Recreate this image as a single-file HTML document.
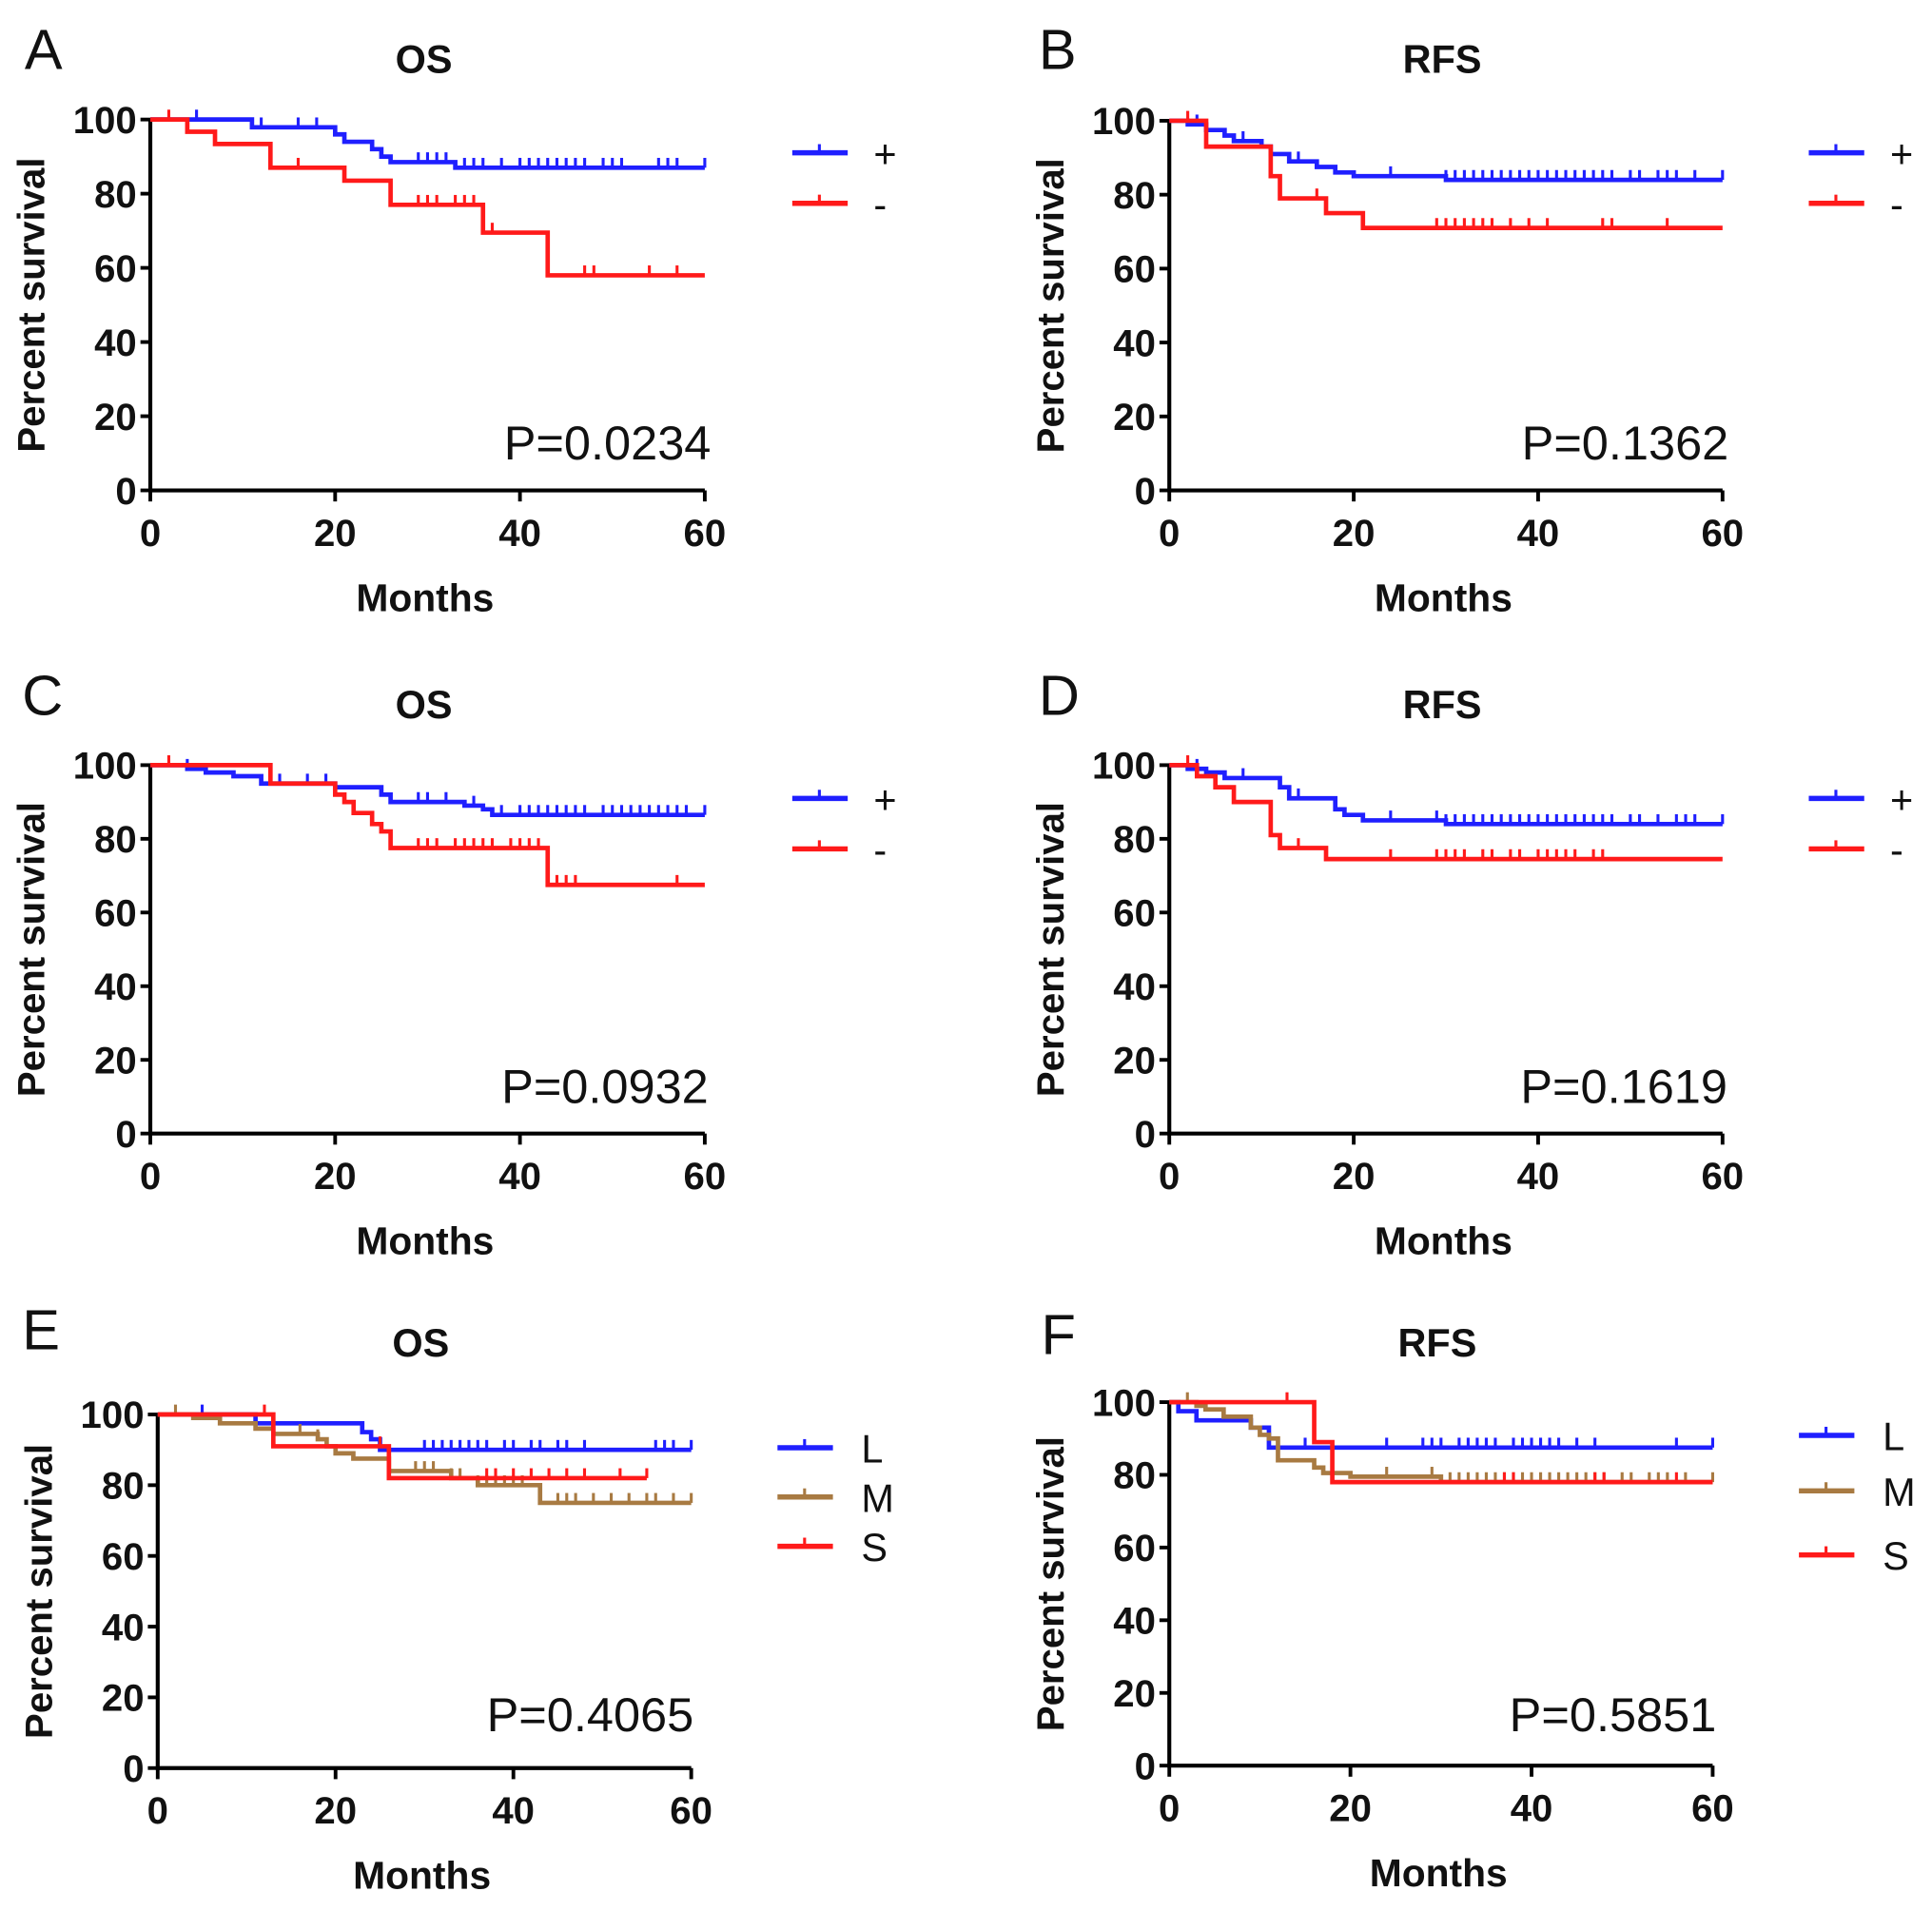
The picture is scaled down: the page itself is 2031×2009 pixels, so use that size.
<!DOCTYPE html>
<html><head><meta charset="utf-8"><title>Kaplan-Meier survival curves</title>
<style>
html,body{margin:0;padding:0;background:#fff;}
svg{display:block;}
text{font-family:"Liberation Sans",Arial,sans-serif;}
</style></head>
<body>
<svg id="fig" width="2031" height="2009" viewBox="0 0 1568 1551" preserveAspectRatio="none" xmlns="http://www.w3.org/2000/svg"></svg>
<script>
// ---- Data (months, percent survival) ----
const xTicks = [0, 20, 40, 60];
const yTicks = [0, 20, 40, 60, 80, 100];

// Panel A (OS)
const aPosT = [0, 11, 20, 21, 22, 24, 25, 26, 33];
const aPosS = [100, 97.9, 96, 94, 94, 92, 90, 88.5, 87];
const aPosC = [5, 12, 16, 18, 29, 30, 31, 32, 34, 35, 36, 38, 40, 41, 42, 43, 44, 45, 46, 47, 49, 50, 51, 55, 56, 57, 60];
const aNegT = [0, 4, 7, 13, 21, 26, 36, 43];
const aNegS = [100, 96.7, 93.4, 87, 83.5, 77, 69.5, 58];
const aNegC = [2, 16, 29, 30, 31, 33, 34, 35, 37, 47, 48, 54, 57];

// Panel B (RFS)
const bPosT = [0, 2, 4, 6, 7, 10, 11, 13, 16, 18, 20, 30];
const bPosS = [100, 99, 97.5, 96, 94.5, 93, 91, 89, 87.5, 86, 85, 84];
const bPosC = [3, 8, 14, 24, 30, 31, 32, 33, 34, 35, 36, 37, 38, 39, 40, 41, 42, 43, 44, 45, 46, 47, 48, 50, 51, 53, 54, 55, 57, 60];
const bNegT = [0, 4, 11, 12, 17, 21];
const bNegS = [100, 93, 85, 79, 75, 71];
const bNegC = [2, 16, 29, 30, 31, 32, 33, 34, 35, 37, 39, 41, 47, 48, 54];

// Panel C (OS)
const cPosT = [0, 4, 6, 9, 12, 20, 25, 26, 34, 36, 37];
const cPosS = [100, 99, 98, 97, 95, 94, 92, 90, 89, 88, 86.5];
const cPosC = [4, 14, 17, 19, 29, 30, 32, 35, 38, 40, 41, 42, 43, 44, 45, 46, 47, 49, 50, 51, 52, 53, 54, 55, 56, 57, 58, 60];
const cNegT = [0, 13, 20, 21, 22, 24, 25, 26, 43];
const cNegS = [100, 95, 92, 90, 87, 84, 82, 77.5, 67.5];
const cNegC = [2, 29, 30, 31, 33, 34, 35, 36, 37, 39, 40, 41, 42, 44, 45, 46, 57];

// Panel D (RFS)
const dPosT = [0, 2, 4, 6, 12, 13, 18, 19, 21, 30];
const dPosS = [100, 99, 98, 96.5, 94, 91, 88, 86.5, 85, 84];
const dPosC = [3, 8, 14, 24, 29, 30, 31, 32, 33, 34, 35, 36, 37, 38, 39, 40, 41, 42, 43, 44, 45, 46, 47, 48, 50, 51, 53, 55, 56, 57, 60];
const dNegT = [0, 3, 5, 7, 11, 12, 17];
const dNegS = [100, 97, 94, 90, 81, 77.5, 74.5];
const dNegC = [2, 14, 24, 29, 30, 31, 32, 34, 35, 37, 38, 40, 41, 42, 43, 44, 46, 47];

// Panel E (OS)
const eLT = [0, 11, 23, 24, 25];
const eLS = [100, 97.5, 95, 93, 90];
const eLC = [5, 30, 31, 32, 33, 34, 35, 36, 37, 39, 40, 42, 43, 45, 46, 48, 56, 57, 58, 60];
const eMT = [0, 4, 7, 11, 13, 18, 19, 20, 22, 26, 33, 36, 43];
const eMS = [100, 99, 97.5, 96, 94.5, 93, 91, 89, 87.5, 84, 82, 80, 75];
const eMC = [2, 16, 18, 29, 30, 31, 33, 34, 36, 37, 38, 39, 40, 41, 45, 46, 47, 49, 51, 53, 55, 56, 58, 60];
const eST = [0, 13, 26];
const eSS = [100, 91, 82];
const eSC = [12, 25, 37, 38, 40, 42, 44, 46, 48, 52, 55];
const eSEnd = 55;

// Panel F (RFS)
const fLT = [0, 1, 3, 9, 11];
const fLS = [100, 97.5, 95, 93, 87.5];
const fLC = [6, 12, 15, 24, 28, 29, 30, 32, 33, 34, 35, 36, 38, 39, 40, 41, 42, 43, 45, 47, 56, 60];
const fMT = [0, 3, 4, 6, 9, 10, 11, 12, 16, 17, 18, 20, 30];
const fMS = [100, 99, 98, 96, 93, 91, 90, 84, 82, 80.5, 80.5, 79.5, 78];
const fMC = [2, 12, 24, 29, 31, 32, 33, 34, 35, 36, 37, 38, 39, 40, 41, 42, 43, 44, 45, 46, 47, 48, 50, 51, 53, 54, 55, 57, 60];
const fST = [0, 16, 18];
const fSS = [100, 89, 78];
const fSC = [13, 37, 38, 47, 48, 56];

// ---- Layout ----
const NS = "http://www.w3.org/2000/svg";
const svg = document.getElementById("fig");
const BLUE = "#1f1fff", RED = "#ff1a1a", BROWN = "#a87a42";

function mk(tag, attrs, parent, txt) {
  const el = document.createElementNS(NS, tag);
  for (const k in attrs) el.setAttribute(k, attrs[k]);
  if (txt !== undefined) el.textContent = txt;
  (parent || svg).appendChild(el);
  return el;
}

function survAt(T, S, t) {
  let s = S[0];
  for (let i = 0; i < T.length; i++) if (T[i] <= t) s = S[i];
  return s;
}

function drawPanel(p) {
  const g = mk("g", {});
  
  
  const xs = v => p.x0 + (p.x1 - p.x0) * v / 60;
  const ys = v => p.y0 + (p.y1 - p.y0) * v / 100;

  const lt = mk("text", {x: p.lx, y: p.ly + 2, "font-size": 46, fill: "#111"}, g, p.letter);
  
  
  const tt = mk("text", {x: (p.x0 + p.x1) / 2 - 3, y: p.ty + 1, "font-size": 32, "font-weight": "bold", "text-anchor": "middle", fill: "#111"}, g, p.title);
  
  

  // axes
  const ax = mk("path", {d: `M${p.x0},${ys(100) - 1} V${p.y0} H${p.x1}`, stroke: "#000", "stroke-width": 3.2, fill: "none"}, g);
  
  
  yTicks.forEach(v => {
    const y = ys(v);
    const tk = mk("line", {x1: p.x0 - 8, x2: p.x0, y1: y, y2: y, stroke: "#000", "stroke-width": 3}, g);
    
    
    const tl = mk("text", {x: p.x0 - 11, y: y + 11, "font-size": 31, "font-weight": "bold", "text-anchor": "end", fill: "#111"}, g, String(v));
    
    
  });
  xTicks.forEach(v => {
    const x = xs(v);
    const tk = mk("line", {x1: x, x2: x, y1: p.y0, y2: p.y0 + 9, stroke: "#000", "stroke-width": 3}, g);
    
    
    const tl = mk("text", {x: x, y: p.y0 + 45, "font-size": 31, "font-weight": "bold", "text-anchor": "middle", fill: "#111"}, g, String(v));
    
    
  });
  const xt = mk("text", {x: (p.x0 + p.x1) / 2 - 2, y: p.y0 + 98, "font-size": 31.5, "font-weight": "bold", "text-anchor": "middle", fill: "#111"}, g, "Months");
  
  
  const ycx = p.x0 - 86, ycy = (p.y0 + ys(100)) / 2;
  const yt = mk("text", {x: ycx, y: ycy, "font-size": 31, "font-weight": "bold", "text-anchor": "middle", fill: "#111", transform: `rotate(-90 ${ycx} ${ycy})`}, g, "Percent survival");
  
  

  // series
  p.series.forEach((s, si) => {
    const end = s.end !== undefined ? s.end : 60;
    let d = `M${xs(0)},${ys(s.S[0])}`;
    for (let i = 1; i < s.T.length; i++) {
      d += ` H${xs(s.T[i])} V${ys(s.S[i])}`;
    }
    d += ` H${xs(end)}`;
    const ln = mk("path", {d: d, stroke: s.color, "stroke-width": 3.6, fill: "none"}, g);
    
    
    s.C.forEach(c => {
      const y = ys(survAt(s.T, s.S, c));
      const cm = mk("line", {x1: xs(c), x2: xs(c), y1: y, y2: y - 8, stroke: s.color, "stroke-width": 2.4}, g);
      
      
    });
    // legend
    const ly = p.legY[si];
    const lg = mk("g", {}, g);
    
    
    mk("line", {x1: p.legX, x2: p.legX + 45, y1: ly, y2: ly, stroke: s.color, "stroke-width": 4.2}, lg);
    mk("line", {x1: p.legX + 22, x2: p.legX + 22, y1: ly, y2: ly - 7, stroke: s.color, "stroke-width": 2.4}, lg);
    mk("text", {x: p.legX + p.legTx, y: ly + 12, "font-size": 32, fill: "#111"}, lg, s.label);
  });

  const pv = mk("text", {x: p.px, y: p.py + 2, "font-size": 39, "text-anchor": "end", fill: "#111"}, g, p.pval);
  
  
}

const panels = [
  {letter: "A", title: "OS", lx: 20, ly: 54, ty: 58, x0: 122, x1: 572, y0: 398, y1: 97, legX: 643, legTx: 66, legY: [124, 165], px: 577, py: 371, pval: "P=0.0234",
   series: [{name: "positive", label: "+", color: BLUE, T: aPosT, S: aPosS, C: aPosC}, {name: "negative", label: "-", color: RED, T: aNegT, S: aNegS, C: aNegC}]},
  {letter: "B", title: "RFS", lx: 843, ly: 54, ty: 58, x0: 949, x1: 1398, y0: 398, y1: 98, legX: 1468, legTx: 66, legY: [124, 165], px: 1403, py: 371, pval: "P=0.1362",
   series: [{name: "positive", label: "+", color: BLUE, T: bPosT, S: bPosS, C: bPosC}, {name: "negative", label: "-", color: RED, T: bNegT, S: bNegS, C: bNegC}]},
  {letter: "C", title: "OS", lx: 18, ly: 578, ty: 582, x0: 122, x1: 572, y0: 920, y1: 621, legX: 643, legTx: 66, legY: [648, 689], px: 575, py: 893, pval: "P=0.0932",
   series: [{name: "positive", label: "+", color: BLUE, T: cPosT, S: cPosS, C: cPosC}, {name: "negative", label: "-", color: RED, T: cNegT, S: cNegS, C: cNegC}]},
  {letter: "D", title: "RFS", lx: 843, ly: 578, ty: 582, x0: 949, x1: 1398, y0: 920, y1: 621, legX: 1468, legTx: 66, legY: [648, 689], px: 1402, py: 893, pval: "P=0.1619",
   series: [{name: "positive", label: "+", color: BLUE, T: dPosT, S: dPosS, C: dPosC}, {name: "negative", label: "-", color: RED, T: dNegT, S: dNegS, C: dNegC}]},
  {letter: "E", title: "OS", lx: 18, ly: 1093, ty: 1100, x0: 128, x1: 561, y0: 1435, y1: 1148, legX: 631, legTx: 68, legY: [1175, 1215, 1255], px: 563, py: 1403, pval: "P=0.4065",
   series: [{name: "l", label: "L", color: BLUE, T: eLT, S: eLS, C: eLC}, {name: "m", label: "M", color: BROWN, T: eMT, S: eMS, C: eMC}, {name: "s", label: "S", color: RED, T: eST, S: eSS, C: eSC, end: eSEnd}]},
  {letter: "F", title: "RFS", lx: 845, ly: 1097, ty: 1100, x0: 949, x1: 1390, y0: 1433, y1: 1138, legX: 1460, legTx: 68, legY: [1165, 1210, 1262], px: 1393, py: 1403, pval: "P=0.5851",
   series: [{name: "l", label: "L", color: BLUE, T: fLT, S: fLS, C: fLC}, {name: "m", label: "M", color: BROWN, T: fMT, S: fMS, C: fMC}, {name: "s", label: "S", color: RED, T: fST, S: fSS, C: fSC}]}
];
panels.forEach(drawPanel);
</script>
</body></html>
